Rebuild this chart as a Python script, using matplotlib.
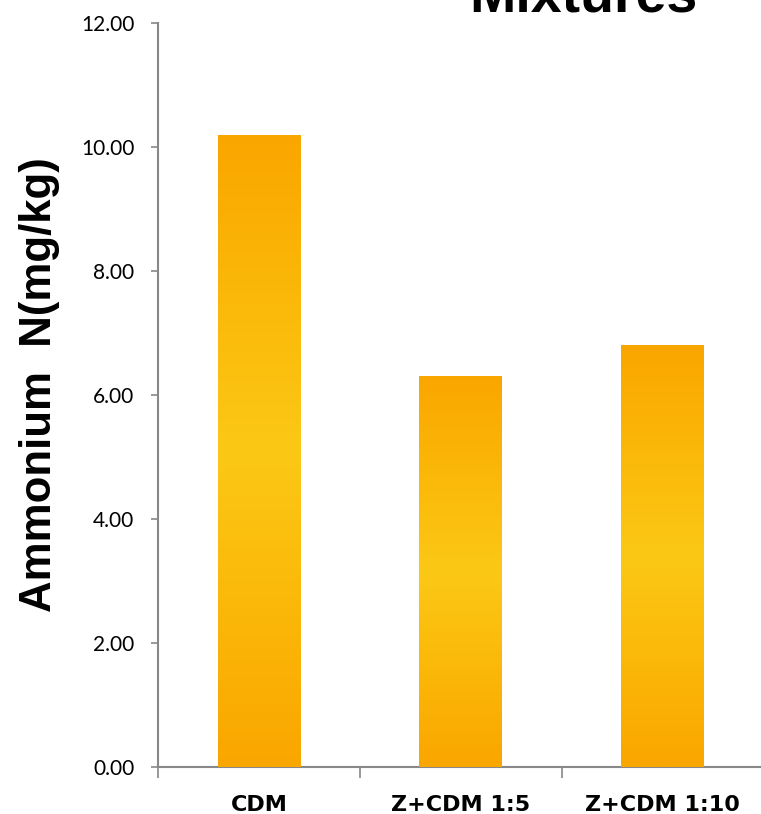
import numpy as np
import matplotlib
matplotlib.use("Agg")
import matplotlib.pyplot as plt
from matplotlib.colors import LinearSegmentedColormap

categories = ["CDM", "Z+CDM 1:5", "Z+CDM 1:10"]
ammonium = [10.2, 6.3, 6.8]
yticks = [0, 2, 4, 6, 8, 10, 12]

fig = plt.figure(figsize=(7.61, 8.14), dpi=100)
ax = fig.add_axes([0.2076, 0.0577, 0.7954, 0.914])

xs = np.arange(len(categories))
bars = ax.bar(xs, ammonium, width=0.41, color="#FBB80C", zorder=2)

# orange at top and bottom, yellow in the middle, clipped to each bar
cmap = LinearSegmentedColormap.from_list(
    "amber", ["#FAA600", "#FBB808", "#FCC816", "#FBB808", "#FAA600"])
grad = np.linspace(0, 1, 256).reshape(-1, 1)
for b in bars:
    x0, w, h = b.get_x(), b.get_width(), b.get_height()
    im = ax.imshow(grad, cmap=cmap, aspect="auto", origin="upper",
                   extent=[x0, x0 + w, 0, h], zorder=3)
    im.set_clip_path(b)

ax.set_xlim(-0.5, 2.5)
ax.set_ylim(0, 12)
ax.set_yticks(yticks)
ax.set_yticklabels([f"{v:.2f}" for v in yticks], fontsize=15, family="Lato")
ax.set_xticks(xs)
ax.set_xticklabels(categories, fontsize=16, family="DejaVu Sans", fontweight="bold")
ax.tick_params(axis="x", length=0, pad=20)
ax.tick_params(axis="y", length=5, color="#888888", width=1.2, pad=12)
ax.set_xticks([-0.5, 0.5, 1.5, 2.5], minor=True)
ax.tick_params(axis="x", which="minor", length=8, color="#888888", width=1.2)

for s in ["top", "right"]:
    ax.spines[s].set_visible(False)
for s in ["left", "bottom"]:
    ax.spines[s].set_color("#888888")
    ax.spines[s].set_linewidth(1.5)

fig.text(40 / 761, 1 - 385 / 814, "Ammonium  N(mg/kg)", fontsize=31.5,
         fontweight="bold", family="Liberation Sans", rotation=90,
         ha="center", va="center")

fig.text(0.766, 0.9855, "Mixtures", fontsize=40, fontweight="bold",
         family="Liberation Sans", ha="center", va="baseline")

fig.savefig("out.png", dpi=100)
